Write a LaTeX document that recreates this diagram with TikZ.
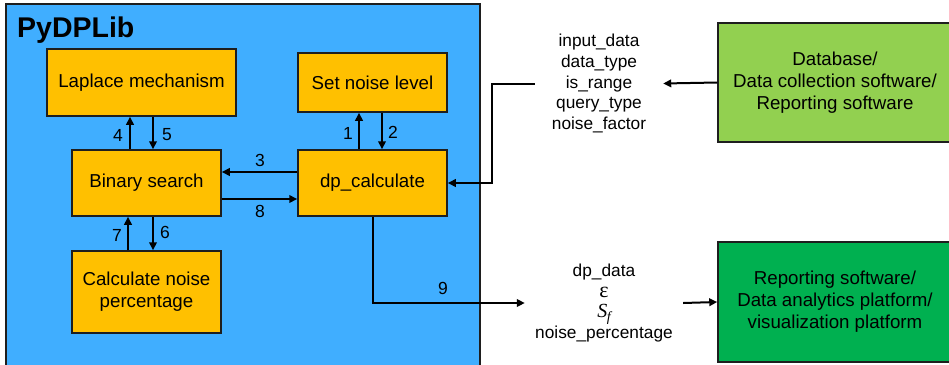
\documentclass[tikz,border=0pt]{standalone}
\usepackage{fontspec}
\setmainfont{Liberation Sans}
\newfontfamily\symfont{Liberation Serif}
\usetikzlibrary{arrows.meta}

\definecolor{panelblue}{RGB}{64,174,255}
\definecolor{boxorange}{RGB}{255,192,0}
\definecolor{lightgreen}{RGB}{146,208,80}
\definecolor{darkgreen}{RGB}{0,176,80}
\definecolor{edge}{RGB}{30,30,30}

\tikzset{
  x=1pt, y=-1pt,
  module/.style={draw=edge, line width=1.5pt, fill=boxorange, align=center,
    minimum width=149pt, inner sep=0pt,
    font=\fontsize{18.7}{22}\selectfont},
  system/.style={draw=edge, line width=1.5pt, align=center,
    minimum width=234pt, inner sep=0pt,
    font=\fontsize{18.7}{22}\selectfont},
  params/.style={align=center, inner sep=0pt,
    font=\fontsize{17.3}{20.7}\selectfont},
  flow/.style={line width=2pt, -{Triangle[length=8pt,width=7.5pt]}},
  stepnum/.style={font=\fontsize{17.5}{20}\selectfont, inner sep=0pt},
}

\begin{document}
\begin{tikzpicture}
\useasboundingbox (0,0) rectangle (949,364);
\clip (0,0) rectangle (949,364);
\fill[white] (0,0) rectangle (949,364);

% library panel
\draw[edge, line width=1.5pt, fill=panelblue] (6,4) rectangle (480,380);
\node[anchor=base west, inner sep=0pt, font=\fontsize{28.5}{32}\selectfont\bfseries]
  (title) at (17,37) {PyDPLib};

% library modules
\node[module, minimum width=189pt, minimum height=67pt] (lap) at (141.5,82.5) {Laplace mechanism};
\node[module, minimum height=59pt] (snl) at (372.5,82.5) {Set noise level};
\node[module, minimum height=66pt] (bs) at (146.5,183) {Binary search};
\node[module, minimum height=66pt] (dp) at (372.5,183) {dp\_calculate};
\node[module, minimum height=82pt] (cnp) at (146.5,292) {Calculate noise\\percentage};

% external systems
\node[system, fill=lightgreen, minimum height=119pt] (db) at (835,82.5)
  {Database/\\Data collection software/\\Reporting software};
\node[system, fill=darkgreen, minimum height=120pt] (rep) at (835,302)
  {Reporting software/\\Data analytics platform/\\visualization platform};

% parameter lists
\node[params, minimum width=128pt] (inlist) at (599,83.5)
  {input\_data\\data\_type\\is\_range\\query\_type\\noise\_factor};
\node[params, minimum width=158pt] (outlist) at (604,303)
  {dp\_data\\{\symfont\fontsize{22}{20.7}\selectfont ε}\\
   {\symfont\itshape\fontsize{20}{20.7}\selectfont S\kern-0.5pt\raisebox{-0.35ex}{\fontsize{14}{14}\selectfont f}}\\
   noise\_percentage};

% internal calls
\draw[flow] ([xshift=-13.5pt]dp.north) -- ([xshift=-13.5pt]dp.north |- snl.south);
\draw[flow] ([xshift=9.5pt]snl.south) -- ([xshift=9.5pt]snl.south |- dp.north);
\draw[flow] ([yshift=11pt]dp.west) -- ([yshift=11pt]dp.west -| bs.east);
\draw[flow] ([xshift=-16.5pt]bs.north) -- ([xshift=-16.5pt]bs.north |- lap.south);
\draw[flow] ([xshift=6.5pt]lap.south -| bs.north) -- ([xshift=6.5pt]bs.north);
\draw[flow] ([xshift=6.5pt]bs.south) -- ([xshift=6.5pt]cnp.north);
\draw[flow] ([xshift=-18.5pt]cnp.north) -- ([xshift=-18.5pt]bs.south);
\draw[flow] ([yshift=-16pt]bs.east) -- ([yshift=-16pt]bs.east -| dp.west);

% step numbers
\node[stepnum] (n1) at (348,133) {1};
\node[stepnum] (n2) at (393,132) {2};
\node[stepnum] (n3) at (260,160) {3};
\node[stepnum] (n4) at (118,135) {4};
\node[stepnum] (n5) at (167,135) {5};
\node[stepnum] (n6) at (165,232) {6};
\node[stepnum] (n7) at (117,235) {7};
\node[stepnum] (n8) at (260,211) {8};
\node[stepnum] (n9) at (443,288) {9};

% data in and out
\draw[flow] (db.west) -- (inlist.east);
\draw[flow] (inlist.west) -- ++(-43,0) |- (dp.east);
\draw[flow] (dp.south) |- (outlist.west);
\draw[flow] (outlist.east) -- (rep.west);
\end{tikzpicture}
\end{document}
